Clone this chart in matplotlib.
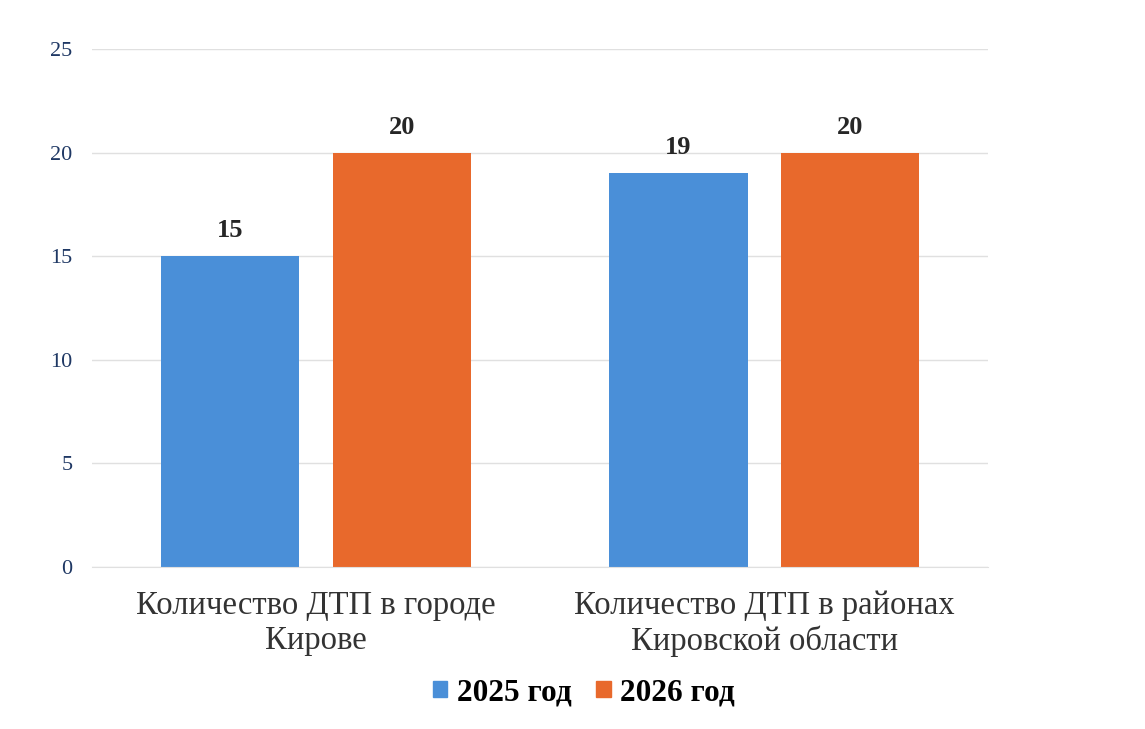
import numpy as np
import matplotlib.pyplot as plt
from matplotlib.patches import Patch

# data
categories = ['Количество ДТП в городе\nКирове', 'Количество ДТП в районах\nКировской области']
series_names = ['2025 год', '2026 год']
values_2025 = [15, 19]
values_2026 = [20, 20]
yticks = [0, 5, 10, 15, 20, 25]

blue = '#4a8fd8'
orange = '#e8692c'

plt.rcParams['font.family'] = ['Liberation Serif', 'DejaVu Serif']

fig = plt.figure(figsize=(11.45, 7.29), dpi=100)
ax = fig.add_axes([0.0803, 0.2222, 0.7827, 0.7106])

x = np.arange(len(categories))
w = 0.308
off = 0.191
b1 = ax.bar(x - off, values_2025, w, color=blue)
b2 = ax.bar(x + off, values_2026, w, color=orange)

for bars in (b1, b2):
    ax.bar_label(bars, padding=10, fontsize=19, fontweight='bold', color='#262626')

ax.set_xlim(-0.5, 1.5)
ax.set_ylim(0, 25)
ax.set_yticks(yticks)
ax.set_xticks(x)
ax.set_xticklabels(categories, fontsize=23.5, color='#333333', linespacing=1.17)
ax.tick_params(axis='y', labelsize=16, labelcolor='#1f3864', length=0, pad=14)
ax.tick_params(axis='x', length=0, pad=17)
ax.grid(axis='y', color='#e0e0e0', linewidth=1)
ax.set_axisbelow(True)
for s in ax.spines.values():
    s.set_visible(False)
ax.spines['bottom'].set_visible(True)
ax.spines['bottom'].set_color('#e0e0e0')

handles = [Patch(color=blue), Patch(color=orange)]
fig.legend(handles, series_names, loc='center', bbox_to_anchor=(0.51, 0.05), ncol=2,
           frameon=False, prop={'size': 22.5, 'weight': 'bold'},
           handlelength=0.45, handleheight=0.45, handletextpad=0.3, columnspacing=0.8)

fig.savefig('out.png', dpi=100)
